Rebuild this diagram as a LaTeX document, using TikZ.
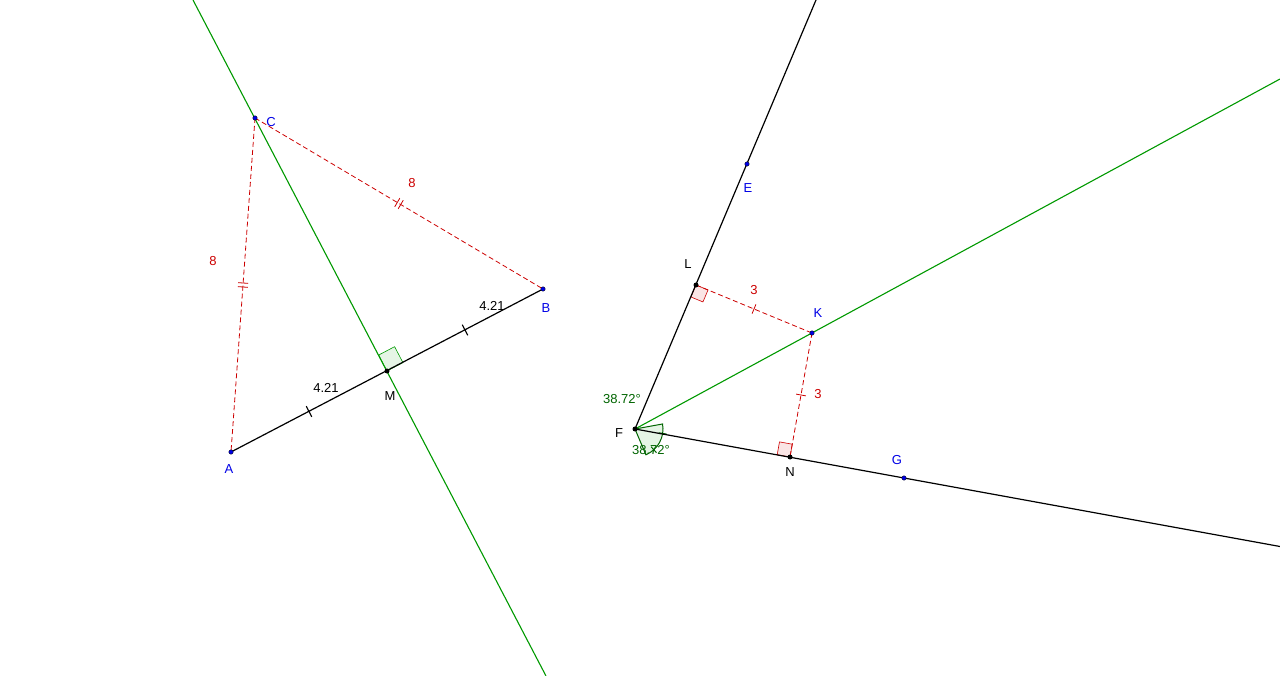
\documentclass[tikz,border=0pt]{standalone}
\usepackage{fontspec}
\setmainfont{Liberation Sans}
\usetikzlibrary{calc}
\definecolor{gg}{RGB}{0,153,0}
\definecolor{rr}{RGB}{204,0,0}
\definecolor{bb}{RGB}{0,0,230}
\definecolor{lg}{RGB}{0,100,0}
\tikzset{
 seg/.style={black,line width=1.2pt},
 gline/.style={gg,line width=1.1pt},
 dline/.style={rr,dashed,line width=0.8pt,dash pattern=on 5pt off 3pt},
 bpt/.style={circle,fill=bb,draw=black,line width=0.3pt,inner sep=0pt,minimum size=4.5pt},
 kpt/.style={circle,fill=black,inner sep=0pt,minimum size=5pt},
 lab/.style={font=\fontsize{13}{15}\selectfont,inner sep=0pt},
 tk/.style={line width=1.1pt},
}
\begin{document}
\begin{tikzpicture}[x=1pt,y=-1pt]
\useasboundingbox (0,0) rectangle (1280,676);
\coordinate (A) at (231,452); \coordinate (B) at (543,289); \coordinate (C) at (255,118);
\coordinate (M) at (387,371);
\coordinate (E) at (747,164); \coordinate (F) at (635,429); \coordinate (G) at (904,478);
\coordinate (K) at (812,333); \coordinate (L) at (696,285); \coordinate (N) at (790,457);
\coordinate (g1) at (193,0); \coordinate (g2) at (546,676);
\coordinate (e1) at (816,0); \coordinate (f1) at (1280,546.5); \coordinate (k1) at (1280,79);
% right angle at M
\filldraw[gg,fill=gg!10,line width=0.6pt] (M) -- ($(M)!18pt!(B)$) -- ($($(M)!18pt!(B)$)+($(M)!18pt!(C)$)-(M)$) -- ($(M)!18pt!(C)$) -- cycle;
% angle at F
\filldraw[lg,fill=gg!10,line width=1pt] (F) -- ++(-10.3:28) arc[start angle=-10.3,end angle=67.1,radius=28] -- cycle;
\draw[lg,line width=1pt] ($(F)+(9.1:24)$) -- ($(F)+(9.1:32)$);
\draw[lg,line width=1pt] ($(F)+(47.8:24)$) -- ($(F)+(47.8:32)$);
% right angles at L, N
\filldraw[rr,fill=rr!10,line width=0.6pt] (L) -- ($(L)!13pt!(F)$) -- ($($(L)!13pt!(F)$)+($(L)!13pt!(K)$)-(L)$) -- ($(L)!13pt!(K)$) -- cycle;
\filldraw[rr,fill=rr!10,line width=0.6pt] (N) -- ($(N)!13pt!(F)$) -- ($($(N)!13pt!(F)$)+($(N)!13pt!(K)$)-(N)$) -- ($(N)!13pt!(K)$) -- cycle;
% lines
\draw[gline] (g1) -- (g2);
\draw[gline] (F) -- (k1);
\draw[seg] (A) -- (B);
\draw[seg] (F) -- (e1);
\draw[seg] (F) -- (f1);
\draw[dline] (C) -- (A);
\draw[dline] (C) -- (B);
\draw[dline] (L) -- (K);
\draw[dline] (K) -- (N);
% ticks
\coordinate (m1) at ($(A)!0.5!(M)$); \coordinate (m2) at ($(M)!0.5!(B)$);
\draw[tk] ($(m1)!6pt!90:(M)$) -- ($(m1)!6pt!-90:(M)$);
\draw[tk] ($(m2)!6pt!90:(B)$) -- ($(m2)!6pt!-90:(B)$);
\coordinate (c1) at ($(C)!0.5!(A)$); \coordinate (c2) at ($(C)!0.5!(B)$);
\foreach \o in {-2,2}{
 \draw[rr,line width=0.8pt] ($($(C)!0.5!(A)$)!\o pt!(A)$) coordinate (t) ($(t)!5pt!90:(A)$) -- ($(t)!5pt!-90:(A)$);
 \draw[rr,line width=0.8pt] ($($(C)!0.5!(B)$)!\o pt!(B)$) coordinate (t) ($(t)!5pt!90:(B)$) -- ($(t)!5pt!-90:(B)$);
}
\coordinate (l1) at ($(L)!0.5!(K)$); \coordinate (n1) at ($(K)!0.5!(N)$);
\draw[rr,line width=0.8pt] ($(l1)!5pt!90:(K)$) -- ($(l1)!5pt!-90:(K)$);
\draw[rr,line width=0.8pt] ($(n1)!5pt!90:(N)$) -- ($(n1)!5pt!-90:(N)$);
% points
\foreach \p in {A,B,C,E,G,K} \node[bpt] (p\p) at (\p) {};
\foreach \p in {M,F,L,N} \node[kpt] (p\p) at (\p) {};
% labels
\node[lab,bb] (lA) at (229,469) {A};
\node[lab,bb] (lB) at (546,308) {B};
\node[lab,bb] (lC) at (271,122) {C};
\node[lab] (lM) at (390,396) {M};
\node[lab,bb] (lE) at (748,188) {E};
\node[lab] (lF) at (619,433) {F};
\node[lab,bb] (lG) at (897,460) {G};
\node[lab,bb] (lK) at (818,313) {K};
\node[lab] (lL) at (688,264) {L};
\node[lab] (lN) at (790,472) {N};
\node[lab,rr] (d1) at (213,261) {8};
\node[lab,rr] (d2) at (412,183) {8};
\node[lab] (d3) at (326,388) {4.21};
\node[lab] (d4) at (492,306) {4.21};
\node[lab,rr] (d5) at (754,290) {3};
\node[lab,rr] (d6) at (818,394) {3};
\node[lab,lg] (a1) at (622,399) {38.72°};
\node[lab,lg] (a2) at (651,450) {38.72°};
\end{tikzpicture}
\end{document}
